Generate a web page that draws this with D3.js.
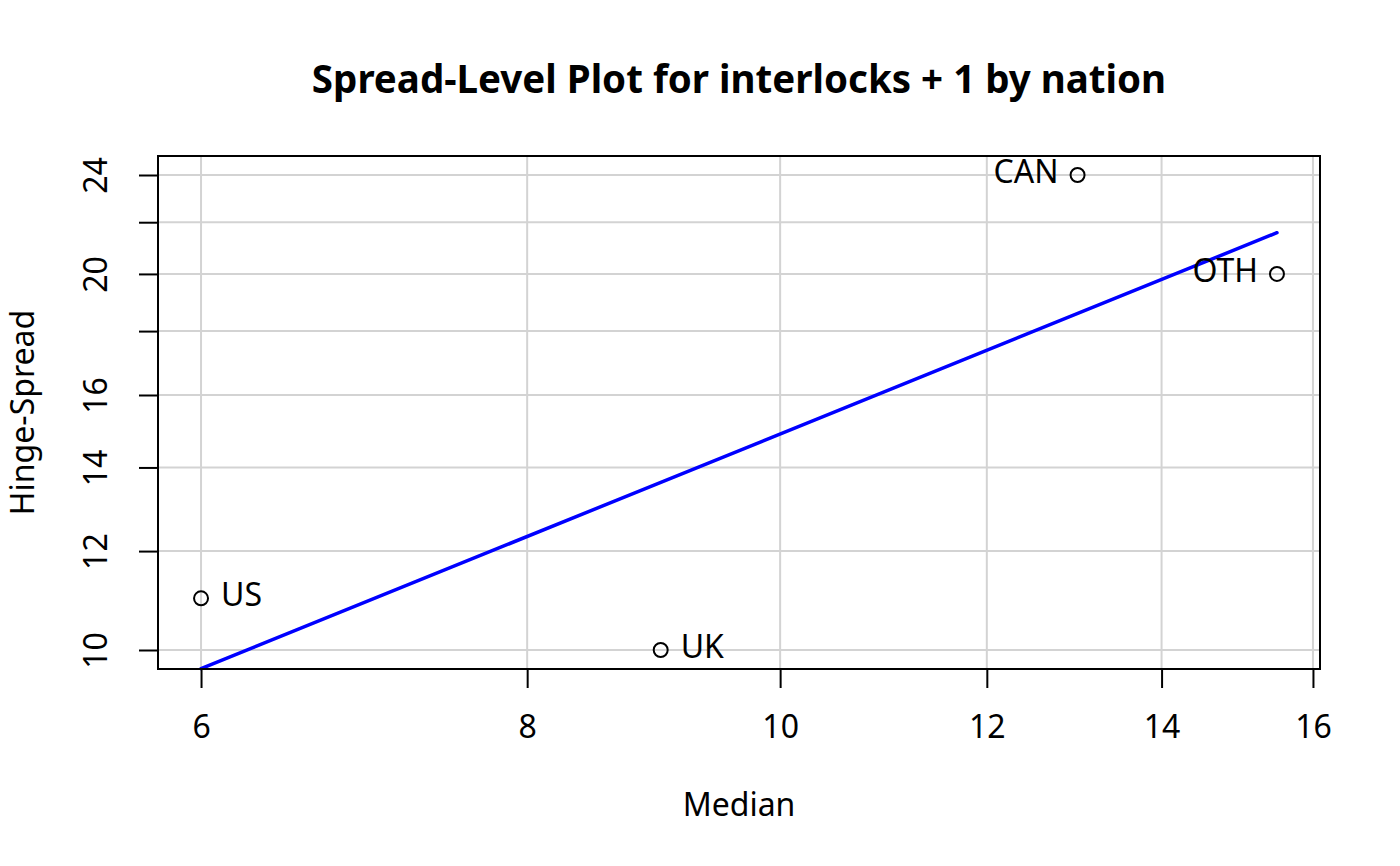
<!DOCTYPE html>
<html>
<head>
<meta charset="utf-8">
<script src="https://cdn.jsdelivr.net/npm/d3@7"></script>
<style>
  html, body { margin: 0; padding: 0; background: #fff; }
  svg { display: block; font-family: "Noto Sans", sans-serif; }
</style>
</head>
<body>
<svg id="chart" width="1400" height="866"></svg>
<script>
// ---- data ----
const nations = ["US", "UK", "CAN", "OTH"];
const medians = [6, 9, 13, 15.5];
const spreads = [11, 10, 24, 20];
const xTicks = [6, 8, 10, 12, 14, 16];
const yTicks = [10, 12, 14, 16, 18, 20, 22, 24];
const yTickLabels = [10, 12, 14, 16, 20, 24];
const titleText = "Spread-Level Plot for interlocks + 1 by nation";
const xLabel = "Median";
const yLabel = "Hinge-Spread";

// ---- layout ----
const W = 1400, H = 866;
const plot = { left: 158, right: 1320, top: 156, bottom: 669 };
const baseFont = 32, titleFont = 38.5;

const svg = d3.select("#chart");

function logDomain(vals) {
  const lo = Math.log(d3.min(vals)), hi = Math.log(d3.max(vals));
  const pad = (hi - lo) * 0.04;
  return [Math.exp(lo - pad), Math.exp(hi + pad)];
}

const x = d3.scaleLog().domain(logDomain(medians)).range([plot.left, plot.right]);
const y = d3.scaleLog().domain(logDomain(spreads)).range([plot.bottom, plot.top]);

// ---- grid ----
const grid = svg.append("g").attr("stroke", "#d3d3d3").attr("stroke-width", 2);
grid.selectAll("line.v").data(xTicks).join("line")
  .attr("x1", d => x(d)).attr("x2", d => x(d))
  .attr("y1", plot.top).attr("y2", plot.bottom);
grid.selectAll("line.h").data(yTicks).join("line")
  .attr("y1", d => y(d)).attr("y2", d => y(d))
  .attr("x1", plot.left).attr("x2", plot.right);

// ---- fit line (least squares on log-log) ----
const lx = medians.map(Math.log), ly = spreads.map(Math.log);
const mx = d3.mean(lx), my = d3.mean(ly);
const slope = d3.sum(lx.map((v, i) => (v - mx) * (ly[i] - my))) / d3.sum(lx.map(v => (v - mx) ** 2));
const icpt = my - slope * mx;
const fitX = d3.extent(medians);
const fitPts = fitX.map(v => [v, Math.exp(icpt + slope * Math.log(v))]);
svg.append("line")
  .attr("x1", x(fitPts[0][0])).attr("y1", y(fitPts[0][1]))
  .attr("x2", x(fitPts[1][0])).attr("y2", y(fitPts[1][1]))
  .attr("stroke", "#0000ff").attr("stroke-width", 3.5).attr("stroke-linecap", "round");

// ---- points ----
const pts = nations.map((n, i) => ({ n, m: medians[i], s: spreads[i] }));
svg.append("g").selectAll("circle").data(pts).join("circle")
  .attr("cx", d => x(d.m)).attr("cy", d => y(d.s)).attr("r", 7)
  .attr("fill", "none").attr("stroke", "#000").attr("stroke-width", 2);

const midX = (plot.left + plot.right) / 2;
svg.append("g").selectAll("text").data(pts).join("text")
  .attr("x", d => x(d.m) > midX ? x(d.m) - 19 : x(d.m) + 20)
  .attr("y", d => y(d.s) + 8)
  .attr("text-anchor", d => x(d.m) > midX ? "end" : "start")
  .attr("font-size", baseFont)
  .text(d => d.n);

// ---- axes ----
const xAxis = d3.axisBottom(x).tickValues(xTicks).tickSize(19).tickPadding(27)
  .tickFormat(d3.format("d"));
const gx = svg.append("g").attr("transform", `translate(0,${plot.bottom})`).call(xAxis);
gx.select(".domain").remove();
gx.append("line").attr("x1", x(xTicks[0])).attr("x2", x(xTicks[xTicks.length - 1]))
  .attr("stroke", "#000").attr("stroke-width", 2);
gx.selectAll(".tick line").attr("stroke", "#000").attr("stroke-width", 2);
gx.selectAll(".tick text").attr("font-size", baseFont).attr("fill", "#000")
  .attr("font-family", "Noto Sans");

const yAxis = d3.axisLeft(y).tickValues(yTicks).tickSize(19)
  .tickFormat(d => yTickLabels.includes(d) ? d3.format("d")(d) : "");
const gy = svg.append("g").attr("transform", `translate(${plot.left},0)`).call(yAxis);
gy.select(".domain").remove();
gy.selectAll(".tick line").attr("stroke", "#000").attr("stroke-width", 2);
gy.selectAll(".tick text")
  .attr("font-size", baseFont).attr("fill", "#000").attr("font-family", "Noto Sans")
  .attr("x", null).attr("dy", null)
  .attr("text-anchor", "middle")
  .attr("transform", "translate(-51,0) rotate(-90)");

// ---- box ----
svg.append("rect")
  .attr("x", plot.left).attr("y", plot.top)
  .attr("width", plot.right - plot.left).attr("height", plot.bottom - plot.top)
  .attr("fill", "none").attr("stroke", "#000").attr("stroke-width", 2);

// ---- titles ----
svg.append("text").attr("x", midX).attr("y", 93)
  .attr("text-anchor", "middle").attr("font-size", titleFont).attr("font-weight", "bold")
  .text(titleText);
svg.append("text").attr("x", midX).attr("y", 816)
  .attr("text-anchor", "middle").attr("font-size", baseFont).text(xLabel);
svg.append("text")
  .attr("transform", `translate(34,${(plot.top + plot.bottom) / 2}) rotate(-90)`)
  .attr("text-anchor", "middle").attr("font-size", baseFont).text(yLabel);
</script>
</body>
</html>
